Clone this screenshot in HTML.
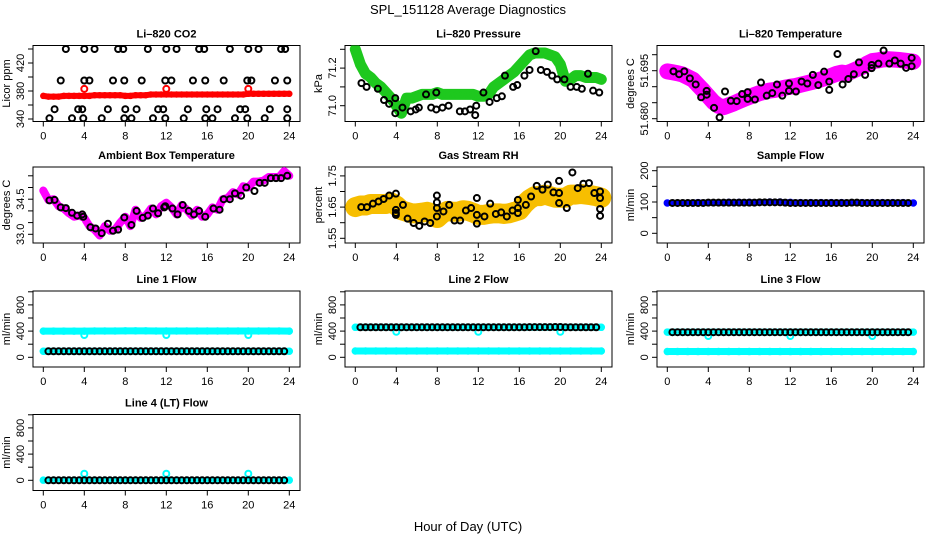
<!DOCTYPE html>
<html><head><meta charset="utf-8"><style>
html,body{margin:0;padding:0;background:#fff;}
svg{display:block;font-family:"Liberation Sans",Arial,sans-serif;}
</style></head><body>
<svg id="chart" width="936" height="540" viewBox="0 0 936 540">
<text x="468" y="14" text-anchor="middle" font-size="13">SPL_151128  Average Diagnostics</text>
<text x="468" y="531" text-anchor="middle" font-size="13">Hour of Day (UTC)</text>
</svg>
<script>
// ---------- data ----------
const xTicks = [0,4,8,12,16,20,24];
// CO2
const co2Red = [373,372,372,372,373,373,373,373,373,373,374,374,374,374,374,374,373,373,374,374,374,375,375,375,375,375,375,375,375,375,375,375,375,375,375,375,375,375,375,375,376,376,376,376,376,376,376,376,376];
const co2RedOutH = [4,12,20];
const co2RedOutV = [383,383,383];
const co2BlkH = [2.2,4,5,7.3,7.8,10.2,12,13,15.2,15.7,18.2,20,21,23.2,23.6, 1.7,4,4.5,6.8,7.9,9.6,11.9,12.5,14.6,15.8,17.6,19.9,20.3,22.6,23.8, 1.1,3.4,3.8,6.3,8,9.1,11.2,11.7,14.1,15.9,17,19.2,19.7,22.1,23.8, 0.6,2.8,3.9,5.7,7.9,8.6,10.7,11.9,13.7,15.8,16.5,18.7,19.9,21.6,23.8];
const co2BlkV = [440,440,440,440,440,440,440,440,440,440,440,440,440,440,440, 395,395,395,395,395,395,395,395,395,395,395,395,395,395,395, 354,354,354,354,354,354,354,354,354,354,354,354,354,354,354, 341,341,341,341,341,341,341,341,341,341,341,341,341,341,341];
// Pressure
const presGreen = [71.30,71.22,71.17,71.15,71.12,71.10,71.07,71.04,71.00,70.96,71.04,71.04,71.05,71.06,71.06,71.06,71.07,71.06,71.06,71.06,71.06,71.06,71.06,71.06,71.05,71.05,71.06,71.10,71.12,71.14,71.16,71.18,71.21,71.24,71.27,71.28,71.28,71.28,71.27,71.26,71.22,71.13,71.14,71.16,71.16,71.15,71.15,71.15,71.14];
const presBlkH = [0.6,1.1,2.2,2.8,3.3,3.9,3.9,4.6,5.4,5.9,6.2,6.9,7.4,7.9,7.9,8.5,9.1,10.2,10.7,11.2,11.7,11.8,12.5,13.1,13.8,14.3,14.6,15.4,15.8,16.5,17,17.6,18.1,18.7,19.2,19.7,20.4,21,21.6,22.1,22.7,23.2,23.8];
const presBlkV = [71.12,71.10,71.09,71.03,71.01,71.04,70.96,70.99,70.97,70.98,70.99,71.06,70.99,70.98,71.07,70.99,71.00,70.97,70.97,70.98,70.95,71.00,71.07,71.02,71.04,71.05,71.16,71.10,71.11,71.16,71.19,71.29,71.19,71.18,71.16,71.14,71.14,71.10,71.10,71.09,71.17,71.08,71.07];
// Li-820 temperature
const tempMag = [51.6948,51.6945,51.6942,51.6938,51.6930,51.6922,51.6905,51.6888,51.6870,51.6852,51.6840,51.6836,51.6842,51.6848,51.6855,51.6862,51.6868,51.6874,51.6880,51.6884,51.6888,51.6890,51.6893,51.6897,51.6900,51.6902,51.6906,51.6910,51.6914,51.6918,51.6923,51.6928,51.6934,51.6940,51.6944,51.6942,51.6948,51.6955,51.6962,51.6972,51.6980,51.6982,51.6985,51.6986,51.6985,51.6984,51.6982,51.6980,51.6978];
const tempBlkH = [0.6,1.15,1.66,2.2,2.77,3.3,3.84,3.84,4.56,5.1,5.63,6.2,6.77,7.3,7.84,7.84,8.55,9.14,9.7,10.24,10.7,11.22,11.87,11.87,12.55,13.1,13.66,14.2,14.73,15.3,15.8,15.8,16.6,17.1,17.66,18.2,18.7,19.3,19.94,19.94,20.6,21.1,21.66,22.2,22.77,23.3,23.84,23.84];
const tempBlkV = [51.6948,51.6939,51.6948,51.6926,51.6907,51.6867,51.6887,51.6875,51.6834,51.6804,51.6885,51.6856,51.6855,51.6877,51.6862,51.6883,51.6860,51.6913,51.6872,51.6880,51.6907,51.6872,51.6910,51.6887,51.6885,51.6916,51.6910,51.6937,51.6905,51.6947,51.6916,51.6890,51.7002,51.6907,51.6924,51.6939,51.6976,51.6937,51.6968,51.6958,51.6972,51.7013,51.6972,51.6982,51.6972,51.6959,51.6990,51.6964];
// Ambient box temperature
const ambMag = [34.87,34.47,34.50,34.20,34.10,33.90,33.75,33.80,33.70,33.35,33.20,32.95,33.35,33.15,33.20,33.50,33.75,33.35,34.05,33.70,33.80,34.10,33.85,34.20,34.35,34.15,33.85,34.25,34.05,33.80,34.05,33.75,33.85,34.15,34.05,34.50,34.55,34.80,34.70,35.05,35.00,35.25,35.25,35.30,35.45,35.45,35.45,35.70,35.50];
const ambBlkH = [0.6,1.1,1.7,2.2,2.8,3.3,3.8,3.9,4.6,5.1,5.7,6.3,6.8,7.3,7.9,8.6,9.1,9.7,10.2,10.7,11.2,11.8,11.9,12.6,13.1,13.6,14.2,14.7,15.2,15.8,16.6,17.2,17.6,18.2,18.7,19.3,19.8,20.6,21.1,21.6,22.2,22.7,23.2,23.8];
const ambBlkV = [34.45,34.47,34.15,34.12,33.92,33.80,33.85,33.75,33.30,33.25,33.05,33.45,33.15,33.20,33.72,33.40,34.00,33.70,33.80,34.10,33.90,34.15,34.20,34.10,33.85,34.25,34.00,33.85,34.00,33.75,34.10,34.05,34.50,34.50,34.75,34.65,35.00,34.85,35.20,35.20,35.40,35.40,35.40,35.50];
// Gas stream RH
const rhCloud = [1.650,1.655,1.655,1.660,1.660,1.660,1.660,1.665,1.655,1.640,1.635,1.630,1.630,1.632,1.635,1.630,1.615,1.630,1.638,1.635,1.635,1.640,1.638,1.632,1.625,1.625,1.628,1.630,1.630,1.628,1.630,1.635,1.640,1.660,1.675,1.685,1.685,1.690,1.685,1.680,1.680,1.680,1.690,1.690,1.692,1.690,1.688,1.685,1.680];
const rhBlkH = [0.58,1.14,1.72,2.27,2.76,3.31,3.96,3.96,3.96,3.96,4.65,5.1,5.69,6.24,6.76,7.31,7.96,7.96,7.96,7.96,8.6,9.16,9.68,10.23,10.79,11.3,11.86,11.86,11.86,12.6,13.16,13.71,14.23,14.78,15.34,15.86,15.86,15.86,16.64,17.15,17.7,18.26,18.78,19.33,19.88,19.88,19.88,20.63,21.18,21.7,22.25,22.8,23.32,23.88,23.88,23.88,23.88];
const rhBlkV = [1.650,1.650,1.661,1.668,1.676,1.687,1.693,1.641,1.631,1.625,1.657,1.613,1.599,1.590,1.604,1.599,1.687,1.665,1.647,1.620,1.636,1.657,1.607,1.607,1.639,1.647,1.679,1.625,1.597,1.620,1.661,1.628,1.633,1.620,1.639,1.673,1.647,1.631,1.657,1.684,1.718,1.706,1.722,1.697,1.734,1.695,1.663,1.647,1.761,1.711,1.725,1.727,1.695,1.700,1.679,1.644,1.622];
// Flows (hourly colored series, half-hourly black)
const sampleBlue = [97,97,97,98,98,98,99,99,99,99,100,100,99,98,98,98,98,98,98,98,98,98,98,98,97];
const line1CyanHi = [400,400,400,400,400,402,402,402,403,403,403,402,402,402,402,402,402,402,402,402,402,402,402,402,400];
const line1CyanLo = [92,92,92,92,92,92,92,92,92,92,92,92,92,92,92,92,92,92,92,92,92,92,92,92,92];
const line2CyanHi = [458,458,458,458,458,458,458,458,458,458,458,458,458,458,458,458,458,458,458,458,458,458,458,458,458];
const line2CyanLo = [96,96,96,96,96,96,96,96,96,96,96,96,96,96,96,96,96,96,96,96,96,96,96,96,96];
const line3CyanHi = [385,385,385,385,385,385,385,385,385,385,385,385,385,385,385,385,385,385,385,385,385,385,385,385,385];
const line3CyanLo = [88,88,88,88,88,88,88,88,88,88,88,88,88,88,88,88,88,88,88,88,88,88,88,88,88];
const line4Cyan = [2,2,2,2,2,2,2,2,2,2,2,2,2,2,2,2,2,2,2,2,2,2,2,2,2];
const outH = [4,12,20];
const line1Out = [340,340,340];
const line2Out = [390,390,390];
const line3Out = [325,325,325];
const line4Out = [100,100,100];
const sampleBlk = [97,97,97,97,97,97,97,98,98,98,98,98,98,98,98,98,98,99,99,99,99,99,98,97,97,97,97,97,97,97,97,97,97,97,97,98,98,97,97,97,97,97,97,97,97,97,97];
const line1Blk = [92,92,92,92,92,92,92,92,92,92,92,92,92,92,92,92,92,92,92,92,92,92,92,92,92,92,92,92,92,92,92,92,92,92,92,92,92,92,92,92,92,92,92,92,92,92,92];
const line2Blk = [458,458,458,458,458,458,458,458,458,458,458,458,458,458,458,458,458,458,458,458,458,458,458,458,458,458,458,458,458,458,458,458,458,460,460,460,460,460,462,462,458,458,458,458,458,458,458];
const line3Blk = [383,383,383,383,383,383,383,383,383,383,383,383,383,383,383,383,383,383,383,383,383,383,383,383,383,383,383,383,383,383,383,383,383,383,383,383,383,383,383,383,383,383,383,383,383,383,383];
const line4Blk = [0,0,0,0,0,0,0,0,0,0,0,0,0,0,0,0,0,0,0,0,0,0,0,0,0,0,0,0,0,0,0,0,0,0,0,0,0,0,0,0,0,0,0,0,0,0,0];

// ---------- layout ----------
const NS = "http://www.w3.org/2000/svg";
const svg = document.getElementById('chart');
const colLeft = [33, 345, 657];
const rowTop = [45.5, 167, 291, 414.5];
const boxW = 267, boxH = 76;
function el(tag, attrs, parent){const e=document.createElementNS(NS,tag);for(const k in attrs)e.setAttribute(k,attrs[k]);(parent||svg).appendChild(e);return e;}

function makePanel(p){
  const L=colLeft[p.col], T=rowTop[p.row];
  const g=el('g',{});
  
  
  const x=h=>L+10.3+h*(246/24);
  const y=v=>T+p.refOff-(v-p.refV)/p.unitV*p.unitPx;
  p.x=x;p.y=y;p.g=g;
  const ttl=el('text',{x:L+boxW/2,y:T-8,'text-anchor':'middle','font-size':11,'font-weight':'bold'},g);
  ttl.textContent=p.title;
  
  
  const yl=el('text',{x:0,y:0,'text-anchor':'middle','font-size':11,transform:`translate(${L-23},${T+boxH/2}) rotate(-90)`},g);
  yl.textContent=p.ylab;
  
  
  const box=el('rect',{x:L,y:T,width:boxW,height:boxH,fill:'none',stroke:'#000','stroke-width':1},g);
  
  
  xTicks.forEach(t=>{
    el('line',{x1:x(t),x2:x(t),y1:T+boxH,y2:T+boxH+5,stroke:'#000'},g);
    const tx=el('text',{x:x(t),y:T+boxH+18,'text-anchor':'middle','font-size':11},g);
    tx.textContent=t;
    
    
  });
  p.yTicks.forEach(t=>{
    el('line',{x1:L,x2:L-5,y1:y(t),y2:y(t),stroke:'#000'},g);
  });
  p.yLabels.forEach(t=>{
    const tx=el('text',{x:0,y:0,'text-anchor':'middle','font-size':11,transform:`translate(${L-9},${y(parseFloat(t))}) rotate(-90)`},g);
    tx.textContent=t;
    
    
  });
  const clip=el('clipPath',{id:'c'+p.name},g);
  el('rect',{x:L,y:T,width:boxW,height:boxH},clip);
  p.plot=el('g',{'clip-path':`url(#c${p.name})`},g);
  return p;
}
function band(p,vals,color,w,name,r){
  const n=vals.length;
  const pts=vals.map((v,i)=>[p.x(i*24/(n-1)),p.y(v)]);
  const pl=el('polyline',{points:pts.map(a=>a.join(',')).join(' '),fill:'none',stroke:color,'stroke-width':w,'stroke-linejoin':'round','stroke-linecap':'round'},p.plot);
  
  
  pts.forEach(a=>{
    const c=el('circle',{cx:a[0],cy:a[1],r:r||3,fill:'none',stroke:color,'stroke-width':1.5},p.plot);
    
    
  });
}
function pts(p,hs,vs,color,name){
  hs.forEach((h,i)=>{
    const c=el('circle',{cx:p.x(h),cy:p.y(vs[i]),r:3,fill:'none',stroke:color,'stroke-width':2},p.plot);
    
    
  });
}
const halfH = sampleBlk.map((_,i)=>0.5+i*0.5);
function range(a,b,s){const r=[];for(let v=a;v<=b+1e-9;v+=s)r.push(+v.toFixed(4));return r;}

// ---------- panels ----------
let p;
p=makePanel({name:'co2',col:0,row:0,title:'Li–820 CO2',ylab:'Licor ppm',refV:340,refOff:73.5,unitV:20,unitPx:14,yTicks:range(340,440,20),yLabels:['340','380','420']});
band(p,co2Red,'#ff0000',6,'co2-series',2.5);
pts(p,co2RedOutH,co2RedOutV,'#ff0000','co2-outlier');
pts(p,co2BlkH,co2BlkV,'#000','co2-hourly-mean');

p=makePanel({name:'pressure',col:1,row:0,title:'Li–820 Pressure',ylab:'kPa',refV:71.0,refOff:60.2,unitV:0.1,unitPx:18.8,yTicks:[71.0,71.1,71.2,71.3],yLabels:['71.0','71.2']});
band(p,presGreen,'#1ec81e',11,'pressure-series',3);
pts(p,presBlkH,presBlkV,'#000','pressure-hourly-mean');

p=makePanel({name:'temperature',col:2,row:0,title:'Li–820 Temperature',ylab:'degrees C',refV:51.680,refOff:73.2,unitV:0.005,unitPx:16,yTicks:range(51.680,51.700,0.005),yLabels:['51.680','51.695']});
band(p,tempMag,'#ff00ff',16,'temperature-series',4);
pts(p,tempBlkH,tempBlkV,'#000','temperature-hourly-mean');

p=makePanel({name:'ambient',col:0,row:1,title:'Ambient Box Temperature',ylab:'degrees C',refV:33.0,refOff:67.3,unitV:0.5,unitPx:11.7,yTicks:range(33.0,35.5,0.5),yLabels:['33.0','34.5']});
band(p,ambMag,'#ff00ff',8,'ambient-series',3);
pts(p,ambBlkH,ambBlkV,'#000','ambient-hourly-mean');

p=makePanel({name:'rh',col:1,row:1,title:'Gas Stream RH',ylab:'percent',refV:1.55,refOff:71.3,unitV:0.05,unitPx:15.6,yTicks:range(1.55,1.75,0.05),yLabels:['1.55','1.65','1.75']});
band(p,rhCloud,'#f7be00',20,'rh-series',5);
pts(p,rhBlkH,rhBlkV,'#000','rh-hourly-mean');

p=makePanel({name:'sample-flow',col:2,row:1,title:'Sample Flow',ylab:'ml/min',refV:0,refOff:66.3,unitV:50,unitPx:15.65,yTicks:range(0,200,50),yLabels:['0','100','200']});
band(p,sampleBlue,'#0000ff',6,'sample-flow-series',3);
pts(p,halfH,sampleBlk,'#000','sample-flow-hourly-mean');

const fl={refV:0,refOff:66.3,unitV:200,unitPx:13.1,yTicks:range(0,1000,200),yLabels:['0','400','800'],ylab:'ml/min'};
p=makePanel(Object.assign({name:'line1',col:0,row:2,title:'Line 1 Flow'},fl));
band(p,line1CyanHi,'#00ffff',7,'line1-cyan-high',3);
band(p,line1CyanLo,'#00ffff',7,'line1-cyan-low',3);
pts(p,outH,line1Out,'#00ffff','line1-outlier');
pts(p,halfH,line1Blk,'#000','line1-hourly-mean');

p=makePanel(Object.assign({name:'line2',col:1,row:2,title:'Line 2 Flow'},fl));
band(p,line2CyanHi,'#00ffff',7,'line2-cyan-high',3);
band(p,line2CyanLo,'#00ffff',7,'line2-cyan-low',3);
pts(p,outH,line2Out,'#00ffff','line2-outlier');
pts(p,halfH,line2Blk,'#000','line2-hourly-mean');

p=makePanel(Object.assign({name:'line3',col:2,row:2,title:'Line 3 Flow'},fl));
band(p,line3CyanHi,'#00ffff',7,'line3-cyan-high',3);
band(p,line3CyanLo,'#00ffff',7,'line3-cyan-low',3);
pts(p,outH,line3Out,'#00ffff','line3-outlier');
pts(p,halfH,line3Blk,'#000','line3-hourly-mean');

p=makePanel(Object.assign({name:'line4',col:0,row:3,title:'Line 4 (LT) Flow'},fl,{refOff:65.8}));
band(p,line4Cyan,'#00ffff',6,'line4-cyan',3);
pts(p,outH,line4Out,'#00ffff','line4-outlier');
pts(p,halfH,line4Blk,'#000','line4-hourly-mean');
</script>
</body></html>
